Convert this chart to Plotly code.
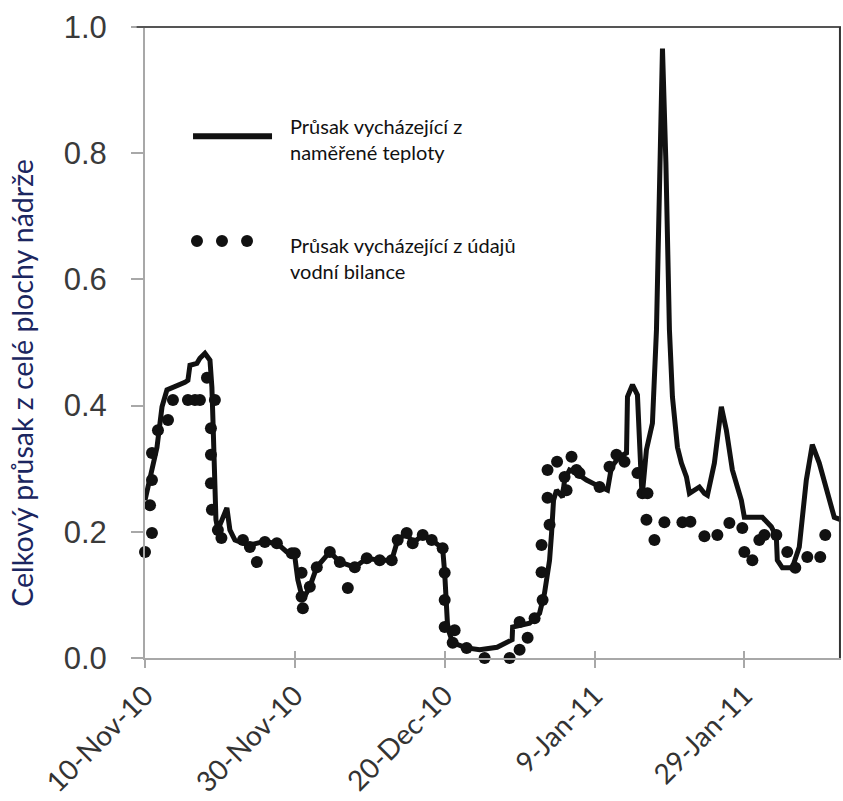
import pandas as pd
import plotly.graph_objects as go

START = pd.Timestamp("2010-11-10")

# Seepage from measured temperature (solid line): day offset from 10-Nov-2010, value
line_days = [0.0, 0.67, 1.6, 2.27, 2.93, 5.33, 5.73, 6.0, 6.93, 7.33, 8.0, 8.67, 8.93, 9.07,
             9.33, 9.47, 9.73, 10.93, 11.33, 12.0, 12.67, 14.0, 15.73, 17.6, 18.93, 20.0,
             20.4, 21.07, 22.0, 22.93, 24.67, 26.0, 28.0, 29.6, 31.33, 32.93, 33.73, 34.93,
             35.73, 37.07, 38.27, 39.73, 40.0, 40.2, 40.4, 41.07, 42.93, 44.67, 47.0, 49.0,
             49.07, 51.33, 52.67, 53.33, 54.0, 54.27, 54.53, 54.93, 55.73, 56.0, 56.67, 57.6,
             58.93, 60.27, 61.73, 62.27, 63.33, 64.27, 64.4, 65.07, 65.73, 66.2, 66.35, 66.93,
             67.73, 68.27, 68.8, 69.07, 69.53, 70.0, 70.4, 71.07, 71.6, 72.27, 72.67, 74.0,
             74.67, 75.07, 76.0, 76.93, 77.6, 78.4, 79.07, 79.6, 80.0, 81.6, 82.4, 83.6, 84.27,
             84.4, 85.07, 86.4, 87.33, 88.27, 89.07, 90.0, 90.93, 92.0, 92.93]
line_vals = [0.250, 0.282, 0.334, 0.398, 0.425, 0.437, 0.440, 0.464, 0.467, 0.475, 0.483, 0.472,
             0.429, 0.377, 0.239, 0.219, 0.203, 0.238, 0.203, 0.187, 0.184, 0.179, 0.184, 0.182,
             0.168, 0.160, 0.124, 0.092, 0.113, 0.144, 0.168, 0.152, 0.144, 0.158, 0.155, 0.155,
             0.187, 0.198, 0.182, 0.195, 0.187, 0.174, 0.135, 0.092, 0.048, 0.024, 0.016, 0.013,
             0.017, 0.029, 0.049, 0.055, 0.071, 0.103, 0.155, 0.198, 0.250, 0.266, 0.255, 0.282,
             0.298, 0.293, 0.282, 0.274, 0.266, 0.303, 0.319, 0.325, 0.414, 0.433, 0.417, 0.293,
             0.255, 0.330, 0.372, 0.520, 0.784, 0.966, 0.784, 0.520, 0.414, 0.334, 0.309, 0.287,
             0.261, 0.271, 0.261, 0.258, 0.309, 0.398, 0.361, 0.298, 0.271, 0.250, 0.223, 0.222,
             0.223, 0.208, 0.192, 0.155, 0.143, 0.143, 0.176, 0.282, 0.338, 0.309, 0.266, 0.223,
             0.219]

# Seepage from water-balance data (dots)
dot_days = [0.0, 0.67, 0.93, 0.93, 0.93, 1.73, 3.07, 3.73, 5.73, 6.67, 7.33, 8.27, 9.33, 8.8,
            8.8, 8.8, 8.93, 9.73, 10.2, 13.07, 14.0, 14.93, 16.0, 17.6, 19.6, 20.0, 20.9, 20.9,
            21.07, 22.0, 22.93, 24.67, 26.0, 27.07, 28.0, 29.6, 31.33, 32.93, 33.73, 34.93,
            35.73, 37.07, 38.27, 39.73, 40.0, 40.0, 40.0, 41.07, 41.33, 42.93, 45.33, 47.6, 48.67,
            49.73, 50.0, 50.0, 51.07, 52.0, 53.07, 52.93, 52.93, 54.0, 53.73, 53.73, 55.0, 56.0,
            56.93, 57.6, 56.27, 58.0, 60.67, 62.0, 62.93, 64.0, 65.73, 66.4, 67.07, 66.93, 68.0,
            69.33, 71.73, 72.8, 74.67, 76.4, 78.0, 79.73, 80.0, 81.07, 82.0, 82.67, 84.27, 85.73,
            86.8, 88.4, 90.13, 90.8, 92.93]
dot_vals = [0.168, 0.242, 0.198, 0.282, 0.325, 0.361, 0.377, 0.409, 0.409, 0.409, 0.409, 0.444,
            0.409, 0.364, 0.322, 0.277, 0.235, 0.203, 0.190, 0.187, 0.176, 0.152, 0.184, 0.182,
            0.166, 0.166, 0.135, 0.097, 0.079, 0.113, 0.144, 0.168, 0.152, 0.111, 0.144, 0.158,
            0.155, 0.155, 0.187, 0.198, 0.182, 0.195, 0.187, 0.174, 0.135, 0.092, 0.049, 0.024,
            0.044, 0.016, 0.000, -0.014, 0.000, -0.030, 0.013, 0.057, 0.032, 0.063, 0.092, 0.136,
            0.179, 0.211, 0.254, 0.298, 0.311, 0.287, 0.319, 0.298, 0.266, 0.293, 0.271, 0.303,
            0.322, 0.311, 0.293, 0.261, 0.261, 0.219, 0.187, 0.215, 0.215, 0.216, 0.193, 0.195,
            0.214, 0.206, 0.168, 0.155, 0.187, 0.195, 0.195, 0.168, 0.143, 0.160, 0.160, 0.195,
            0.192]

tick_days = [0, 20, 40, 60, 80]
tick_labels = ["10-Nov-10", "30-Nov-10", "20-Dec-10", "9-Jan-11", "29-Jan-11"]
y_ticks = [0.0, 0.2, 0.4, 0.6, 0.8, 1.0]
x_end_day = 92.9

y_title = "Celkový průsak z celé plochy nádrže"
legend_line_text = "Průsak vycházející z<br>naměřené teploty"
legend_dot_text = "Průsak vycházející z údajů<br>vodní bilance"


def to_dates(days):
    return [START + pd.to_timedelta(d, unit="D") for d in days]


fig = go.Figure()
fig.add_trace(go.Scatter(
    x=to_dates(line_days), y=line_vals, mode="lines",
    line=dict(color="#111111", width=5), cliponaxis=False, showlegend=False))
fig.add_trace(go.Scatter(
    x=to_dates(dot_days), y=dot_vals, mode="markers",
    marker=dict(color="#111111", size=12), cliponaxis=False, showlegend=False))
# invisible trace to anchor inner-tick axis
fig.add_trace(go.Scatter(x=to_dates([0]), y=[0], xaxis="x2", mode="markers",
                         marker=dict(opacity=0), showlegend=False, hoverinfo="skip"))

x_range = to_dates([0, x_end_day])
tick_dates = to_dates(tick_days)
axis_gray = "#a8a8a8"

fig.update_layout(
    width=843, height=801,
    margin=dict(l=145, r=2, t=27, b=143),
    paper_bgcolor="white", plot_bgcolor="white",
    xaxis=dict(range=x_range, tickvals=tick_dates, ticktext=tick_labels, tickangle=-45,
               automargin=False,
               showgrid=False, zeroline=False, showline=True, linecolor=axis_gray, linewidth=2,
               ticks="outside", ticklen=8, tickwidth=2, tickcolor=axis_gray,
               tickfont=dict(family="Lato", size=28, color="#333333")),
    xaxis2=dict(range=x_range, overlaying="x", anchor="y", side="bottom", tickvals=tick_dates,
                automargin=False,
                showticklabels=False, showgrid=False, zeroline=False, showline=False,
                ticks="inside", ticklen=7, tickwidth=2, tickcolor=axis_gray),
    yaxis=dict(range=[0, 1.0], tickvals=y_ticks, tickformat=".1f", automargin=False,
               showgrid=False, zeroline=False, showline=True, linecolor=axis_gray, linewidth=2,
               ticks="outside", ticklen=12, tickwidth=2, tickcolor=axis_gray,
               ticklabelstandoff=18,
               tickfont=dict(family="Liberation Sans", size=31, color="#3a3a3a")),
)

fig.add_annotation(text=y_title, xref="paper", yref="paper", x=-0.177, y=0.436,
                   xanchor="center", yanchor="middle", textangle=-90, showarrow=False,
                   font=dict(family="Lato", size=28.5, color="#1b2660"))

# frame on top and right
fig.add_shape(type="line", xref="paper", yref="paper", x0=-0.012, x1=1, y0=1, y1=1,
              line=dict(color="#555555", width=2))
fig.add_shape(type="line", xref="paper", yref="paper", x0=0.9985, x1=0.9985, y0=0, y1=1,
              line=dict(color="#333333", width=2))

# legend symbols
fig.add_shape(type="line", xref="paper", yref="paper", x0=0.069, x1=0.1825, y0=0.827, y1=0.827,
              line=dict(color="#111111", width=6))
for px in [0.0747, 0.1106, 0.1466]:
    fig.add_shape(type="circle", xref="paper", yref="paper", xsizemode="pixel", ysizemode="pixel",
                  xanchor=px, yanchor=0.661, x0=-6, x1=6, y0=-6, y1=6,
                  fillcolor="#111111", line=dict(color="#111111", width=0))

fig.add_annotation(text=legend_line_text, xref="paper", yref="paper", x=0.205, y=0.8225,
                   xanchor="left", yanchor="middle", align="left", showarrow=False,
                   font=dict(family="Lato", size=20, color="#111111"))
fig.add_annotation(text=legend_dot_text, xref="paper", yref="paper", x=0.205, y=0.6347,
                   xanchor="left", yanchor="middle", align="left", showarrow=False,
                   font=dict(family="Lato", size=20, color="#111111"))

# remove the page's default body margin so the 843x801 figure fills the window exactly
fig.write_html("out.html", config={"displayModeBar": False},
               post_script="document.body.style.margin='0';document.body.style.overflow='hidden';")
